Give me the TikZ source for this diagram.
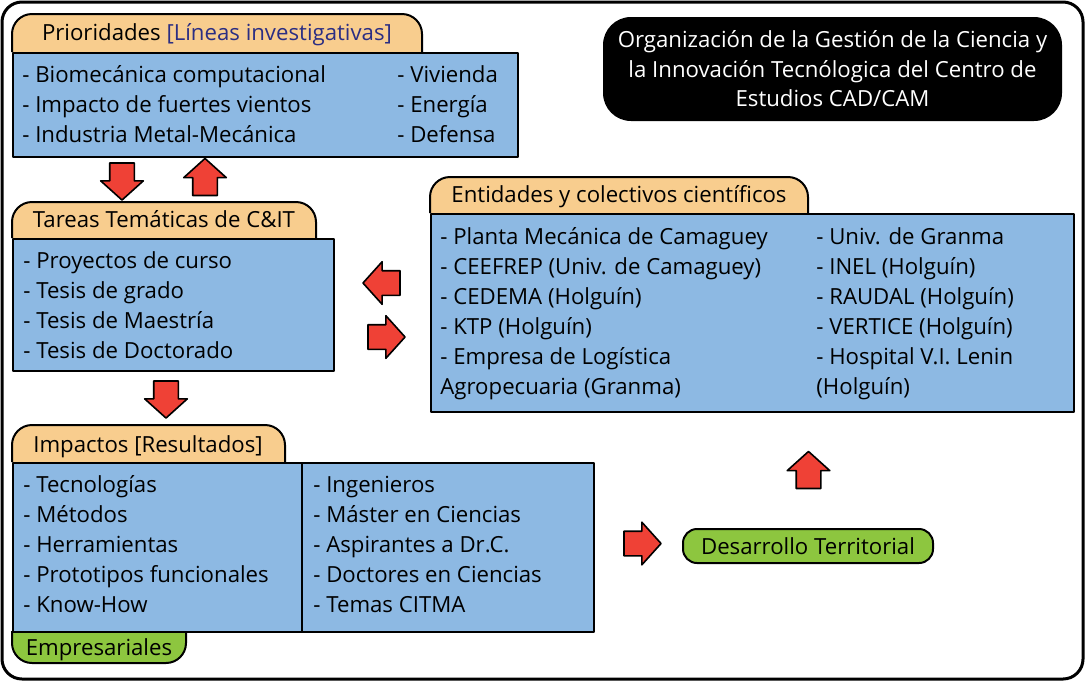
\documentclass[tikz,border=0pt]{standalone}
\usepackage{fontspec}
\setmainfont{Open Sans}
\usetikzlibrary{shapes.arrows}
\definecolor{pestana}{RGB}{248,205,142}
\definecolor{cajaazul}{RGB}{141,185,227}
\definecolor{verde}{RGB}{141,198,63}
\definecolor{rojo}{RGB}{239,65,54}
\definecolor{azuloscuro}{RGB}{43,46,131}
\begin{document}
\begin{tikzpicture}[x=0.5pt, y=-0.5pt, line join=round, font=\fontsize{11.1}{14.75}\selectfont,
	caja/.style={draw, line width=1pt, fill=cajaazul, anchor=north west, inner sep=0pt},
	pest/.style={draw, line width=1pt, fill=pestana, rounded corners=10pt},
	titpest/.style={anchor=base, inner sep=0pt},
	item/.style={anchor=base west, inner sep=0pt},
	flecha/.style={single arrow, draw, line width=0.8pt, fill=rojo, inner sep=5.75pt,
		minimum height=18.5pt, minimum width=20.5pt, single arrow head extend=4.5pt,
		single arrow tip angle=96}]
	\useasboundingbox (0,0) rectangle (1085,681);
	\draw[line width=1.5pt, rounded corners=10pt] (2,2) rectangle (1083,679);
	
	%titulo
	\node[fill=black, rounded corners=14pt, minimum width=229.5pt, minimum height=52pt,
		text=white, align=center] (titulo) at (832.5,69)
		{Organización de la Gestión de la Ciencia y\\la Innovación Tecnólogica del Centro de\\Estudios CAD/CAM};
	
	%prioridades
	\filldraw[pest] (12,52) -- (12,14) -- (422,14) -- (422,52);
	\node[titpest] (pri-t) at (217,40) {Prioridades \textcolor{azuloscuro}{[Líneas investigativas]}};
	\node[caja, minimum width=252.5pt, minimum height=52pt] (pri) at (12,52) {};
	\foreach \t [count=\i] in {- Biomecánica computacional, - Impacto de fuertes vientos, - Industria Metal-Mecánica}
		\node[item] (pri-a\i) at (22,{82+30*(\i-1)}) {\t};
	\foreach \t [count=\i] in {- Vivienda, - Energía, - Defensa}
		\node[item] (pri-b\i) at (397,{82+30*(\i-1)}) {\t};
	
	%tareas
	\filldraw[pest] (12,238) -- (12,202) -- (316,202) -- (316,238);
	\node[titpest] (tar-t) at (164,227) {Tareas Temáticas de C\&IT};
	\node[caja, minimum width=160.5pt, minimum height=66pt] (tar) at (12,238) {};
	\foreach \t [count=\i] in {- Proyectos de curso, - Tesis de grado, - Tesis de Maestría, - Tesis de Doctorado}
		\node[item] (tar-a\i) at (23,{268+30*(\i-1)}) {\t};
	
	%impactos
	\filldraw[pest, fill=verde] (12,631) -- (12,663) -- (186,663) -- (186,631);
	\node[titpest] (emp-t) at (99,655) {Empresariales};
	\filldraw[pest] (12,462) -- (12,425) -- (285,425) -- (285,462);
	\node[titpest] (imp-t) at (148,452) {Impactos [Resultados]};
	\node[caja, minimum width=290.5pt, minimum height=84.5pt] (imp) at (12,462) {};
	\draw[line width=1pt] (302,462) -- (302,631);
	\foreach \t [count=\i] in {- Tecnologías, - Métodos, - Herramientas, - Prototipos funcionales, - Know-How}
		\node[item] (imp-a\i) at (23,{492+30*(\i-1)}) {\t};
	\foreach \t [count=\i] in {- Ingenieros, - Máster en Ciencias, - Aspirantes a Dr.C., - Doctores en Ciencias, - Temas CITMA}
		\node[item] (imp-b\i) at (313,{492+30*(\i-1)}) {\t};
	
	%entidades
	\filldraw[pest] (430,213) -- (430,177) -- (808,177) -- (808,213);
	\node[titpest] (ent-t) at (619,202) {Entidades y colectivos científicos};
	\node[caja, minimum width=321.5pt, minimum height=99pt] (ent) at (430,213) {};
	\foreach \t [count=\i] in {- Planta Mecánica de Camaguey, - CEEFREP (Univ. de Camaguey), - CEDEMA (Holguín),
		- KTP (Holguín), - Empresa de Logística, Agropecuaria (Granma)}
		\node[item] (ent-a\i) at (440,{244+30*(\i-1)}) {\t};
	\foreach \t [count=\i] in {- Univ. de Granma, - INEL (Holguín), - RAUDAL (Holguín), - VERTICE (Holguín),
		- Hospital V.I. Lenin, (Holguín)}
		\node[item] (ent-b\i) at (816,{244+30*(\i-1)}) {\t};
	
	%desarrollo
	\node[draw, line width=1pt, fill=verde, rounded corners=7pt, minimum width=125pt,
		minimum height=17pt, inner sep=0pt] (des) at (808,546) {Desarrollo Territorial};
	
	%flechas
	\node[flecha, shape border rotate=270] (f1) at (122,176) {};
	\node[flecha, shape border rotate=90] (f2) at (205,182.5) {};
	\node[flecha, shape border rotate=270] (f3) at (166,394) {};
	\node[flecha, shape border rotate=180] (f4) at (387,283) {};
	\node[flecha] (f5) at (381,337) {};
	\node[flecha, shape border rotate=90] (f6) at (808.5,475.5) {};
	\node[flecha] (f7) at (637,543.5) {};
\end{tikzpicture}
\end{document}
